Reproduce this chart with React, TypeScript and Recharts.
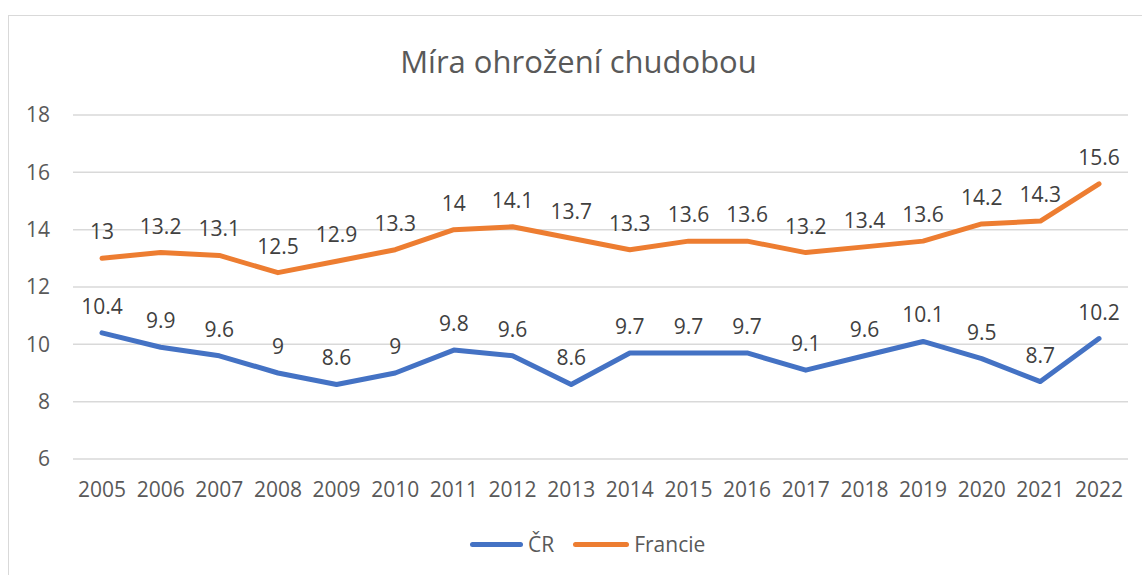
import React from "react";
import {
  LineChart,
  Line,
  XAxis,
  YAxis,
  CartesianGrid,
  LabelList,
} from "recharts";

const years = [
  "2005", "2006", "2007", "2008", "2009", "2010", "2011", "2012", "2013",
  "2014", "2015", "2016", "2017", "2018", "2019", "2020", "2021", "2022",
];
const crValues = [
  10.4, 9.9, 9.6, 9, 8.6, 9, 9.8, 9.6, 8.6, 9.7, 9.7, 9.7, 9.1, 9.6, 10.1, 9.5,
  8.7, 10.2,
];
const frValues = [
  13, 13.2, 13.1, 12.5, 12.9, 13.3, 14, 14.1, 13.7, 13.3, 13.6, 13.6, 13.2,
  13.4, 13.6, 14.2, 14.3, 15.6,
];
const yTicks = [6, 8, 10, 12, 14, 16, 18];

const chartData = years.map((year, i) => ({
  year,
  cr: crValues[i],
  fr: frValues[i],
}));

const FONT = "'Open Sans', sans-serif";
const BLUE = "#4472C4";
const ORANGE = "#ED7D31";

export default function App() {
  return (
    <div
      style={{
        position: "absolute",
        left: 0,
        top: 0,
        width: 1142,
        height: 575,
        background: "#fff",
        overflow: "hidden",
        fontFamily: FONT,
      }}
    >
      {/* chart border */}
      <div
        style={{
          position: "absolute",
          left: 8,
          top: 15,
          width: 1150,
          height: 600,
          border: "1.5px solid #d9d9d9",
        }}
      />

      <div
        style={{
          position: "absolute",
          left: 0,
          top: 41,
          width: 1157,
          textAlign: "center",
          fontSize: 31,
          color: "#595959",
          lineHeight: "40px",
        }}
      >
        Míra ohrožení chudobou
      </div>

      <div style={{ position: "absolute", left: 0, top: 0 }}>
        <LineChart
          width={1142}
          height={575}
          data={chartData}
          margin={{ top: 115, right: 14, left: 13, bottom: 66 }}
        >
          <CartesianGrid
            vertical={false}
            stroke="#d9d9d9"
            strokeWidth={1.5}
          />
          <XAxis
            dataKey="year"
            axisLine={false}
            tickLine={false}
            height={50}
            tickMargin={17}
            padding={{ left: 29, right: 29 }}
            interval={0}
            tick={{ fill: "#595959", fontSize: 21, fontFamily: FONT }}
          />
          <YAxis
            domain={[6, 18]}
            ticks={yTicks}
            axisLine={false}
            tickLine={false}
            width={60}
            tickMargin={17}
            tick={{ fill: "#595959", fontSize: 21, fontFamily: FONT }}
          />
          <Line
            type="linear"
            dataKey="cr"
            stroke={BLUE}
            strokeWidth={5}
            strokeLinecap="round"
            strokeLinejoin="round"
            dot={false}
            isAnimationActive={false}
          >
            <LabelList
              dataKey="cr"
              position="top"
              offset={19}
              style={{ fill: "#404040", fontSize: 21, fontFamily: FONT }}
            />
          </Line>
          <Line
            type="linear"
            dataKey="fr"
            stroke={ORANGE}
            strokeWidth={5}
            strokeLinecap="round"
            strokeLinejoin="round"
            dot={false}
            isAnimationActive={false}
          >
            <LabelList
              dataKey="fr"
              position="top"
              offset={19}
              style={{ fill: "#404040", fontSize: 21, fontFamily: FONT }}
            />
          </Line>
        </LineChart>
      </div>

      {/* legend */}
      <div
        style={{
          position: "absolute",
          left: 470,
          top: 530,
          display: "flex",
          alignItems: "center",
          fontSize: 21,
          color: "#595959",
          lineHeight: "28px",
        }}
      >
        <span
          style={{
            display: "inline-block",
            width: 53,
            height: 5,
            borderRadius: 3,
            background: BLUE,
            marginRight: 5,
          }}
        />
        <span style={{ marginRight: 19 }}>ČR</span>
        <span
          style={{
            display: "inline-block",
            width: 56,
            height: 5,
            borderRadius: 3,
            background: ORANGE,
            marginRight: 5,
          }}
        />
        <span>Francie</span>
      </div>
    </div>
  );
}
